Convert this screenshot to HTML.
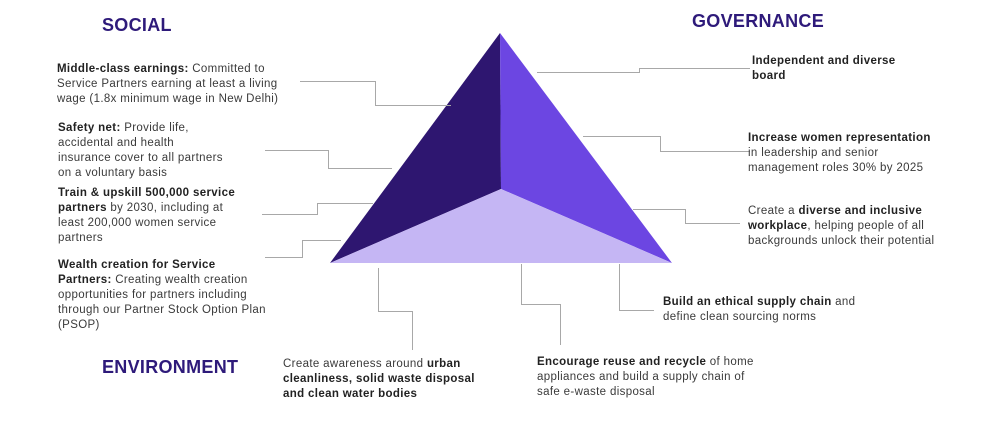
<!DOCTYPE html>
<html><head><meta charset="utf-8"><style>
body{margin:0;width:1008px;height:426px;background:#fff;position:relative;overflow:hidden;font-family:"Liberation Sans",sans-serif;color:#3a3a3a}
.t{position:absolute;font-size:11.5px;line-height:15px;white-space:nowrap;letter-spacing:0.35px}
.h{position:absolute;font-weight:bold;font-size:18px;color:#2e1a7a;letter-spacing:0.3px}
b{color:#222}
svg{position:absolute;left:0;top:0}
</style></head><body>
<svg width="1008" height="426">
<polygon points="500,33 330,263 501,189" fill="#2e1670"/>
<polygon points="500,33 672,263 501,189" fill="#6c46e2"/>
<polygon points="330,263 501,189 672,263" fill="#c5b6f4"/>
<g fill="none" stroke="#a8a8a8" stroke-width="1">
<polyline points="300,81.5 375.5,81.5 375.5,105.5 451,105.5"/>
<polyline points="265,150.5 328.5,150.5 328.5,168.5 392,168.5"/>
<polyline points="262,214.5 317.5,214.5 317.5,203.5 373,203.5"/>
<polyline points="265,257.5 302.5,257.5 302.5,240.5 341,240.5"/>
<polyline points="537,72.5 639.5,72.5 639.5,68.5 750,68.5"/>
<polyline points="583,136.5 660.5,136.5 660.5,151.5 750,151.5"/>
<polyline points="633,209.5 685.5,209.5 685.5,223.5 740,223.5"/>
<polyline points="378.5,268 378.5,311.5 412.5,311.5 412.5,350"/>
<polyline points="521.5,264 521.5,304.5 560.5,304.5 560.5,345"/>
<polyline points="619.5,264 619.5,310.5 654,310.5"/>
</g>
</svg>
<div class="h" style="left:102px;top:15px">SOCIAL</div>
<div class="h" style="left:692px;top:11px">GOVERNANCE</div>
<div class="h" style="left:102px;top:357px">ENVIRONMENT</div>
<div class="t" style="left:57px;top:62px"><b>Middle-class earnings:</b> Committed to<br>Service Partners earning at least a living<br>wage (1.8x minimum wage in New Delhi)</div>
<div class="t" style="left:58px;top:121px"><b>Safety net:</b> Provide life,<br>accidental and health<br>insurance cover to all partners<br>on a voluntary basis</div>
<div class="t" style="left:58px;top:186px"><b>Train &amp; upskill 500,000 service<br>partners</b> by 2030, including at<br>least 200,000 women service<br>partners</div>
<div class="t" style="left:58px;top:258px"><b>Wealth creation for Service<br>Partners:</b> Creating wealth creation<br>opportunities for partners including<br>through our Partner Stock Option Plan<br>(PSOP)</div>
<div class="t" style="left:752px;top:54px"><b>Independent and diverse<br>board</b></div>
<div class="t" style="left:748px;top:131px"><b>Increase women representation</b><br>in leadership and senior<br>management roles 30% by 2025</div>
<div class="t" style="left:748px;top:204px">Create a <b>diverse and inclusive<br>workplace</b>, helping people of all<br>backgrounds unlock their potential</div>
<div class="t" style="left:663px;top:295px"><b>Build an ethical supply chain</b> and<br>define clean sourcing norms</div>
<div class="t" style="left:283px;top:357px">Create awareness around <b>urban<br>cleanliness, solid waste disposal<br>and clean water bodies</b></div>
<div class="t" style="left:537px;top:355px"><b>Encourage reuse and recycle</b> of home<br>appliances and build a supply chain of<br>safe e-waste disposal</div>
</body></html>
